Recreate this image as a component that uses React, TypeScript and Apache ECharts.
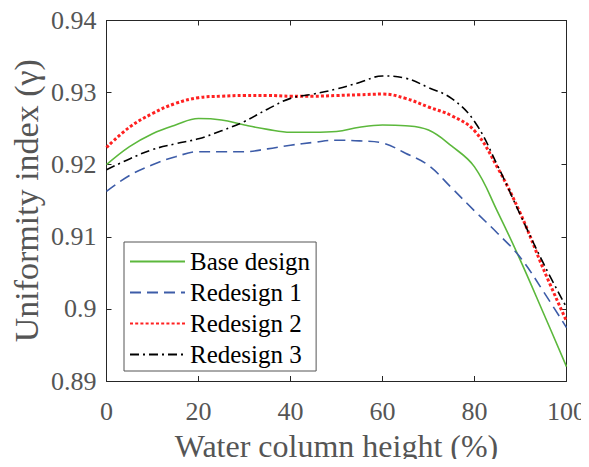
import React, { useEffect, useRef } from "react";
import * as echarts from "echarts";

// Water column height (%) sampled every 5 %
const heights = [0, 5, 10, 15, 20, 25, 30, 35, 40, 45, 50, 55, 60, 65, 70, 75, 80, 85, 90, 95, 100];

const baseDesign = [
  0.92, 0.9225, 0.9243, 0.9255, 0.9264, 0.9262, 0.9255, 0.9249, 0.9245, 0.9245, 0.9246,
  0.9252, 0.9255, 0.9254, 0.9248, 0.9226, 0.9197, 0.9135, 0.9067, 0.8994, 0.892,
];
const redesign1 = [
  0.9163, 0.9185, 0.92, 0.9211, 0.9218, 0.9218, 0.9218, 0.9222, 0.9227, 0.9231, 0.9234,
  0.9233, 0.923, 0.9216, 0.9199, 0.9168, 0.9136, 0.9105, 0.9071, 0.9024, 0.8974,
];
const redesign2 = [
  0.9224, 0.9252, 0.9271, 0.9285, 0.9293, 0.9295, 0.9296, 0.9296, 0.9295, 0.9295, 0.9296,
  0.9297, 0.9298, 0.9292, 0.928, 0.9268, 0.9247, 0.9196, 0.9132, 0.9055, 0.8983,
];
const redesign3 = [
  0.9193, 0.9208, 0.9221, 0.9229, 0.9236, 0.9247, 0.926, 0.9277, 0.9292, 0.9298, 0.9305,
  0.9314, 0.9323, 0.932, 0.9307, 0.9292, 0.926, 0.9199, 0.913, 0.9063, 0.9002,
];

const seriesNames = ["Base design", "Redesign 1", "Redesign 2", "Redesign 3"];
const xTicks = { min: 0, max: 100, interval: 20 };
const yTicks = { min: 0.89, max: 0.94, interval: 0.01 };

const SERIF = "Liberation Serif";
const FRAME = "#262626";
const LABEL = "#555555";

const pairs = (ys: number[]) => heights.map((h, i) => [h, ys[i]]);

export default function App() {
  const ref = useRef<HTMLDivElement>(null);

  useEffect(() => {
    if (!ref.current) return;
    const chart = echarts.init(ref.current, undefined, { renderer: "svg" });

    const frameAxis = {
      axisLine: { show: true, onZero: false, lineStyle: { color: FRAME, width: 1 } },
      axisTick: { show: true, inside: true, length: 5, lineStyle: { color: FRAME, width: 1 } },
      splitLine: { show: false },
    };

    chart.setOption({
      animation: false,
      backgroundColor: "#ffffff",
      textStyle: { fontFamily: SERIF },
      grid: { left: 106.5, right: 22.5, top: 20.5, bottom: 79, containLabel: false },
      xAxis: [
        {
          type: "value",
          position: "bottom",
          ...xTicks,
          ...frameAxis,
          axisLabel: {
            margin: 17,
            fontFamily: SERIF,
            fontSize: 26,
            color: LABEL,
          },
          name: "Water column height (%)",
          nameLocation: "middle",
          nameGap: 49,
          nameMoveOverlap: false,
          nameTextStyle: { fontFamily: SERIF, fontSize: 32, color: LABEL },
        },
        {
          type: "value",
          position: "top",
          ...xTicks,
          ...frameAxis,
          axisLabel: { show: false },
        },
      ],
      yAxis: [
        {
          type: "value",
          position: "left",
          ...yTicks,
          ...frameAxis,
          axisLabel: {
            margin: 10,
            fontFamily: SERIF,
            fontSize: 26,
            color: LABEL,
            formatter: (v: number) => String(+v.toFixed(2)),
          },
          name: "Uniformity index (γ)",
          nameLocation: "middle",
          nameGap: 63,
          nameMoveOverlap: false,
          nameTextStyle: { fontFamily: SERIF, fontSize: 34, color: LABEL },
        },
        {
          type: "value",
          position: "right",
          ...yTicks,
          ...frameAxis,
          axisLabel: { show: false },
        },
      ],
      legend: {
        orient: "vertical",
        left: 124,
        top: 242,
        padding: [7, 6, 4, 5],
        itemGap: 6,
        itemWidth: 55,
        itemHeight: 14,
        backgroundColor: "#ffffff",
        borderColor: "#555555",
        borderWidth: 1,
        borderRadius: 0,
        data: seriesNames,
        itemStyle: { opacity: 0 },
        textStyle: { fontFamily: SERIF, fontSize: 25, color: "#000000" },
      },
      series: [
        {
          name: seriesNames[0],
          type: "line",
          data: pairs(baseDesign),
          smooth: 0.4,
          symbol: "none",
          showSymbol: false,
          lineStyle: { color: "#5cb83c", width: 1.6, type: "solid" },
          itemStyle: { color: "#5cb83c" },
          z: 2,
        },
        {
          name: seriesNames[1],
          type: "line",
          data: pairs(redesign1),
          smooth: 0.4,
          symbol: "none",
          showSymbol: false,
          lineStyle: { color: "#3d5ca8", width: 1.6, type: [11, 6] },
          itemStyle: { color: "#3d5ca8" },
          z: 3,
        },
        {
          name: seriesNames[2],
          type: "line",
          data: pairs(redesign2),
          smooth: 0.4,
          symbol: "none",
          showSymbol: false,
          lineStyle: { color: "#ff2121", width: 3, type: [3, 2.2] },
          itemStyle: { color: "#ff2121" },
          z: 4,
        },
        {
          name: seriesNames[3],
          type: "line",
          data: pairs(redesign3),
          smooth: 0.4,
          symbol: "none",
          showSymbol: false,
          lineStyle: { color: "#000000", width: 1.6, type: [9, 4, 2, 4] },
          itemStyle: { color: "#000000" },
          z: 5,
        },
      ],
    });

    return () => chart.dispose();
  }, []);

  return <div ref={ref} style={{ width: 589, height: 467, margin: -8 }} />;
}
